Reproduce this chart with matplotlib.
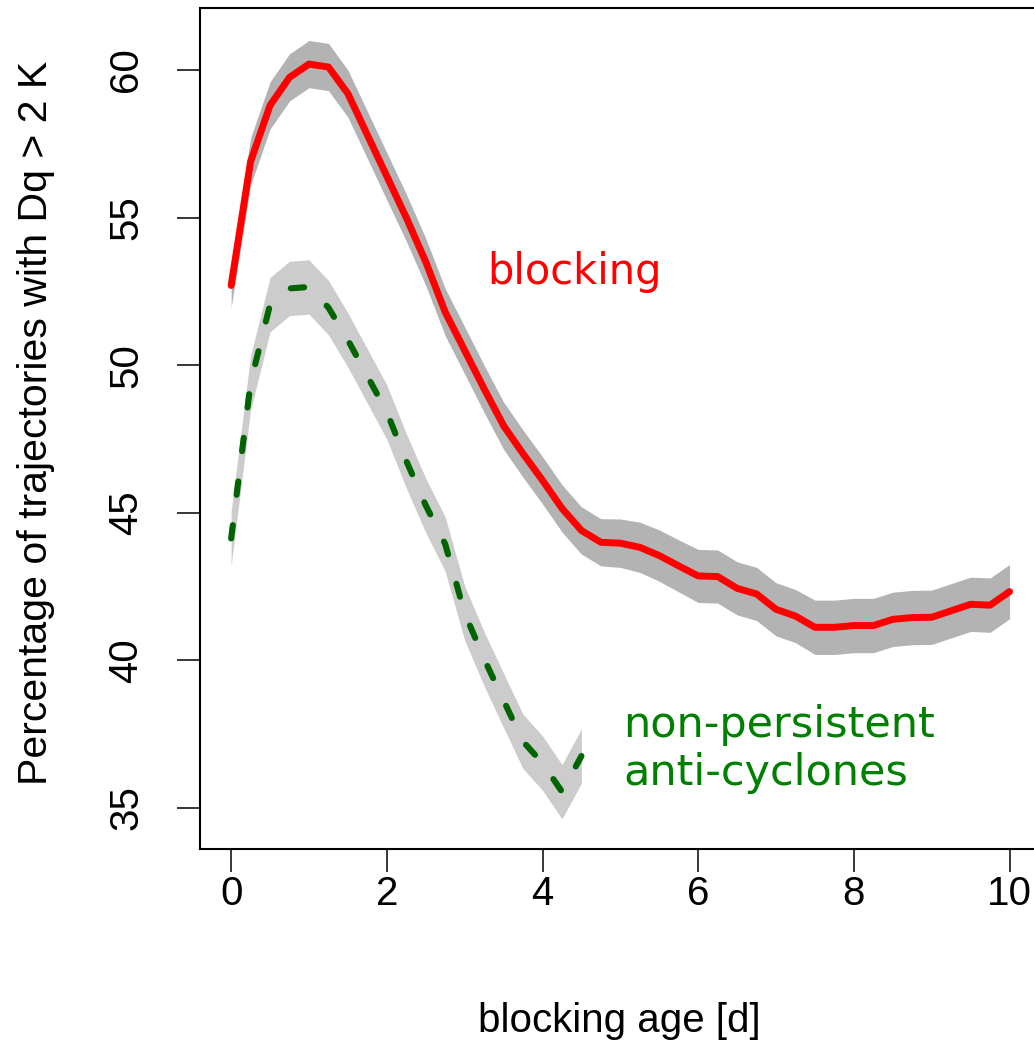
import matplotlib
matplotlib.use("Agg")
import matplotlib.pyplot as plt

# blocking age [d]
age = [0.0, 0.25, 0.5, 0.75, 1.0, 1.25, 1.5, 1.75, 2.0, 2.25, 2.5, 2.75,
       3.0, 3.25, 3.5, 3.75, 4.0, 4.25, 4.5, 4.75, 5.0, 5.25, 5.5, 5.75,
       6.0, 6.25, 6.5, 6.75, 7.0, 7.25, 7.5, 7.75, 8.0, 8.25, 8.5, 8.75,
       9.0, 9.25, 9.5, 9.75, 10.0]

# blocking: percentage and half-width of the uncertainty band
blocking = [52.7, 56.9, 58.8, 59.75, 60.2, 60.1, 59.2, 57.8, 56.4, 55.0,
            53.5, 51.8, 50.5, 49.2, 47.95, 47.0, 46.1, 45.15, 44.4, 44.0,
            43.97, 43.83, 43.55, 43.2, 42.86, 42.84, 42.44, 42.25, 41.73,
            41.5, 41.12, 41.12, 41.18, 41.18, 41.39, 41.45, 41.46, 41.68,
            41.9, 41.87, 42.33]
blocking_err = [0.75, 0.8, 0.8, 0.8, 0.8, 0.8, 0.8, 0.8, 0.8, 0.8, 0.8,
                0.8, 0.8, 0.8, 0.8, 0.8, 0.8, 0.8, 0.8, 0.8, 0.82, 0.85,
                0.87, 0.88, 0.9, 0.9, 0.9, 0.9, 0.9, 0.9, 0.92, 0.92, 0.92,
                0.92, 0.92, 0.92, 0.92, 0.92, 0.92, 0.92, 0.92]

# non-persistent anti-cyclones (only up to 4.5 d)
age_ac = age[:19]
anticyc = [44.13, 49.4, 52.05, 52.6, 52.65, 51.95, 50.85, 49.63, 48.41,
           46.76, 45.25, 43.94, 41.6, 40.05, 38.64, 37.25, 36.52, 35.55,
           36.76]
anticyc_err = [0.92] * 19

xticks = [0, 2, 4, 6, 8, 10]
yticks = [35, 40, 45, 50, 55, 60]

plt.rcParams["font.family"] = ["Liberation Sans", "DejaVu Sans"]

W, H = 1034, 1041
fig = plt.figure(figsize=(W / 100, H / 100), dpi=100)
# the plot box runs past the right edge of the picture, as in the original
ax = fig.add_axes([200 / W, 1 - 849 / H, 840.7 / W, 841 / H])

lo = [v - e for v, e in zip(blocking, blocking_err)]
hi = [v + e for v, e in zip(blocking, blocking_err)]
ax.fill_between(age, lo, hi, color="#b3b3b3", lw=0)
lo = [v - e for v, e in zip(anticyc, anticyc_err)]
hi = [v + e for v, e in zip(anticyc, anticyc_err)]
ax.fill_between(age_ac, lo, hi, color="#cccccc", lw=0)

ax.plot(age, blocking, color="#ff0000", lw=5.0, solid_capstyle="round",
        solid_joinstyle="round")
ax.plot(age_ac, anticyc, color="#006400", lw=4.4, ls=(0, (2.2, 5.0)),
        dash_capstyle="round", dash_joinstyle="round")

ax.text(3.29, 53.16, "blocking", color="#ff0000", fontsize=30,
        family="DejaVu Sans", ha="left", va="center")
ax.text(5.04, 37.0, "non-persistent\nanti-cyclones", color="#008000",
        fontsize=31, family="DejaVu Sans", ha="left", va="center",
        linespacing=1.2)

ax.set_xlim(-0.4, 10.4)
ax.set_ylim(33.61, 62.10)
ax.set_xticks(xticks)
ax.set_yticks(yticks)
for s in ax.spines.values():
    s.set_linewidth(1.5)
ax.tick_params(direction="out", length=16.5, width=1.1, labelsize=29)
ax.tick_params(axis="x", pad=2)
ax.tick_params(axis="y", pad=23, labelrotation=90)
for lab in ax.get_yticklabels():
    lab.set_va("center")

fig.text(619 / W, 1 - 1021 / H, "blocking age [d]", fontsize=29,
         ha="center", va="center")
fig.text(36 / W, 1 - 423 / H, "Percentage of trajectories with Dq > 2 K",
         fontsize=29.5, rotation=90, ha="center", va="center")

fig.savefig("out.png", dpi=100)
